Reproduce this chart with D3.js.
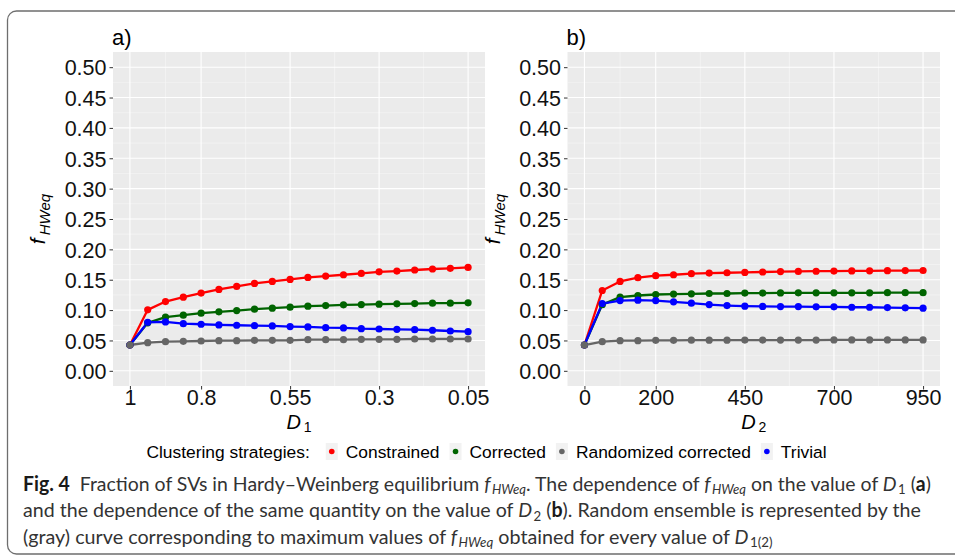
<!DOCTYPE html>
<html>
<head>
<meta charset="utf-8">
<script src="https://cdn.jsdelivr.net/npm/d3@7"></script>
<style>
  html, body { margin: 0; padding: 0; background: #fff; }
  svg { display: block; }
</style>
</head>
<body>
<svg id="chart" width="955" height="555"></svg>
<script>
// ---------------- data ----------------
const d1Values = [1, 0.95, 0.9, 0.85, 0.8, 0.75, 0.7, 0.65, 0.6, 0.55, 0.5, 0.45, 0.4, 0.35, 0.3, 0.25, 0.2, 0.15, 0.1, 0.05];
const d2Values = [0, 50, 100, 150, 200, 250, 300, 350, 400, 450, 500, 550, 600, 650, 700, 750, 800, 850, 900, 950];

const constrainedA = [0.0425, 0.1004, 0.1141, 0.1213, 0.1280, 0.1340, 0.1390, 0.1439, 0.1472, 0.1505, 0.1538, 0.1560, 0.1582, 0.1604, 0.1630, 0.1643, 0.1660, 0.1677, 0.1687, 0.1703];
const correctedA   = [0.0425, 0.0790, 0.0883, 0.0916, 0.0949, 0.0971, 0.0992, 0.1015, 0.1032, 0.1048, 0.1065, 0.1075, 0.1086, 0.1091, 0.1098, 0.1103, 0.1108, 0.1114, 0.1114, 0.1119];
const trivialA     = [0.0425, 0.0800, 0.0805, 0.0777, 0.0767, 0.0756, 0.0750, 0.0744, 0.0739, 0.0728, 0.0723, 0.0711, 0.0706, 0.0694, 0.0689, 0.0684, 0.0678, 0.0668, 0.0656, 0.0645];
const randomizedA  = [0.0425, 0.0463, 0.0480, 0.0486, 0.0491, 0.0496, 0.0496, 0.0502, 0.0502, 0.0502, 0.0513, 0.0513, 0.0513, 0.0518, 0.0518, 0.0518, 0.0524, 0.0524, 0.0524, 0.0524];

const constrainedB = [0.0425, 0.1323, 0.1472, 0.1533, 0.1566, 0.1582, 0.1599, 0.1610, 0.1615, 0.1620, 0.1627, 0.1635, 0.1637, 0.1640, 0.1643, 0.1645, 0.1647, 0.1649, 0.1650, 0.1652];
const correctedB   = [0.0425, 0.1090, 0.1213, 0.1240, 0.1257, 0.1263, 0.1268, 0.1273, 0.1273, 0.1280, 0.1280, 0.1283, 0.1284, 0.1285, 0.1285, 0.1285, 0.1285, 0.1286, 0.1286, 0.1286];
const trivialB     = [0.0425, 0.1108, 0.1157, 0.1164, 0.1157, 0.1136, 0.1114, 0.1091, 0.1075, 0.1065, 0.1060, 0.1058, 0.1058, 0.1053, 0.1053, 0.1047, 0.1047, 0.1042, 0.1037, 0.1032];
const randomizedB  = [0.0425, 0.0480, 0.0496, 0.0496, 0.0502, 0.0502, 0.0504, 0.0505, 0.0505, 0.0506, 0.0506, 0.0507, 0.0507, 0.0507, 0.0508, 0.0508, 0.0508, 0.0508, 0.0508, 0.0508];

const seriesNames  = ["Constrained", "Corrected", "Randomized corrected", "Trivial"];
const seriesColors = ["#FF0000", "#006400", "#666666", "#0000FF"];
const drawOrder    = ["Constrained", "Corrected", "Trivial", "Randomized corrected"];

const d1Ticks = [1, 0.8, 0.55, 0.3, 0.05];
const d1TickLabels = ["1", "0.8", "0.55", "0.3", "0.05"];
const d2Ticks = [0, 200, 450, 700, 950];
const d2TickLabels = ["0", "200", "450", "700", "950"];
const yTicks = [0, 0.05, 0.10, 0.15, 0.20, 0.25, 0.30, 0.35, 0.40, 0.45, 0.50];
const yTickLabels = ["0.00", "0.05", "0.10", "0.15", "0.20", "0.25", "0.30", "0.35", "0.40", "0.45", "0.50"];

const legendTitle = "Clustering strategies:";

// ---------------- drawing ----------------
const svg = d3.select("#chart");
const FONT = "'Liberation Sans', Arial, Helvetica, sans-serif";
const colorOf = d3.scaleOrdinal().domain(seriesNames).range(seriesColors);

// frame
svg.append("rect")
  .attr("x", 7.5).attr("y", 11).attr("width", 980).attr("height", 543)
  .attr("rx", 9).attr("fill", "none").attr("stroke", "#6e6e6e").attr("stroke-width", 1.3);

const plotTop = 52, plotBottom = 386;
const y = d3.scaleLinear().domain([-0.025, 0.525]).range([plotBottom, plotTop]);

function midpoints(arr) {
  const out = [];
  for (let i = 0; i < arr.length - 1; i++) out.push((arr[i] + arr[i + 1]) / 2);
  return out;
}

function panel(opts) {
  const { left, right, xDomain, xVals, xTicks, xTickLabels, data, label, axisSub } = opts;
  const x = d3.scaleLinear().domain(xDomain).range([left, right]);
  const g = svg.append("g");

  // background
  g.append("rect").attr("x", left).attr("y", plotTop)
    .attr("width", right - left).attr("height", plotBottom - plotTop).attr("fill", "#EBEBEB");

  // minor grid
  midpoints(yTicks).forEach(v => {
    g.append("line").attr("x1", left).attr("x2", right).attr("y1", y(v)).attr("y2", y(v))
      .attr("stroke", "#F6F6F6").attr("stroke-width", 0.6);
  });
  midpoints(xTicks).forEach(v => {
    g.append("line").attr("x1", x(v)).attr("x2", x(v)).attr("y1", plotTop).attr("y2", plotBottom)
      .attr("stroke", "#F6F6F6").attr("stroke-width", 0.6);
  });
  // major grid
  yTicks.forEach(v => {
    g.append("line").attr("x1", left).attr("x2", right).attr("y1", y(v)).attr("y2", y(v))
      .attr("stroke", "#FFFFFF").attr("stroke-width", 1.1);
  });
  xTicks.forEach(v => {
    g.append("line").attr("x1", x(v)).attr("x2", x(v)).attr("y1", plotTop).attr("y2", plotBottom)
      .attr("stroke", "#FFFFFF").attr("stroke-width", 1.1);
  });

  // axes
  const yAxis = d3.axisLeft(y).tickValues(yTicks).tickFormat((d, i) => yTickLabels[i])
    .tickSize(3.5).tickPadding(3);
  const ya = g.append("g").attr("transform", `translate(${left},0)`).call(yAxis);
  ya.select(".domain").remove();
  ya.selectAll(".tick line").attr("stroke", "#333").attr("stroke-width", 1);
  ya.selectAll(".tick text").attr("fill", "#111").style("font-family", FONT).style("font-size", "21.5px")
    .attr("dy", "0.36em");

  const xAxis = d3.axisBottom(x).tickValues(xTicks).tickFormat((d, i) => xTickLabels[i])
    .tickSize(3.5).tickPadding(1);
  const xa = g.append("g").attr("transform", `translate(0,${plotBottom})`).call(xAxis);
  xa.select(".domain").remove();
  xa.selectAll(".tick line").attr("stroke", "#333").attr("stroke-width", 1);
  xa.selectAll(".tick text").attr("fill", "#111").style("font-family", FONT).style("font-size", "21.5px")
    .attr("dy", "0.68em");

  // lines
  const line = d3.line().x((d, i) => x(xVals[i])).y(d => y(d));
  drawOrder.forEach(name => {
    g.append("path").datum(data[name]).attr("d", line).attr("fill", "none")
      .attr("stroke", colorOf(name)).attr("stroke-width", 2.3).attr("stroke-linejoin", "round");
  });
  drawOrder.forEach(name => {
    g.selectAll(null).data(data[name]).enter().append("circle")
      .attr("cx", (d, i) => x(xVals[i])).attr("cy", d => y(d)).attr("r", 3.6)
      .attr("fill", colorOf(name));
  });

  // panel label
  g.append("text").attr("x", left - 1).attr("y", 45).text(label)
    .style("font-family", FONT).style("font-size", "22px").attr("fill", "#000");

  // x axis title
  const xt = g.append("text").attr("x", (left + right) / 2).attr("y", 429).attr("text-anchor", "middle")
    .style("font-family", FONT).attr("fill", "#000");
  xt.append("tspan").text("D").style("font-style", "italic").style("font-size", "20px");
  xt.append("tspan").text(axisSub).attr("dx", 3).attr("dy", 3).style("font-size", "14px");

  // y axis title
  const cx = left - 68, cy = (plotTop + plotBottom) / 2;
  const yt = g.append("text").attr("transform", `translate(${cx},${cy}) rotate(-90)`).attr("text-anchor", "middle")
    .style("font-family", FONT).attr("fill", "#000");
  yt.append("tspan").text("f").style("font-style", "italic").style("font-size", "21px");
  yt.append("tspan").text("HWeq").attr("dx", 3).attr("dy", 5).style("font-style", "italic").style("font-size", "15px");
}

panel({
  left: 113, right: 485, xDomain: [1.0475, 0.0025], xVals: d1Values,
  xTicks: d1Ticks, xTickLabels: d1TickLabels, label: "a)", axisSub: "1",
  data: { "Constrained": constrainedA, "Corrected": correctedA, "Trivial": trivialA, "Randomized corrected": randomizedA }
});
panel({
  left: 567.5, right: 940, xDomain: [-47.5, 997.5], xVals: d2Values,
  xTicks: d2Ticks, xTickLabels: d2TickLabels, label: "b)", axisSub: "2",
  data: { "Constrained": constrainedB, "Corrected": correctedB, "Trivial": trivialB, "Randomized corrected": randomizedB }
});

// ---------------- legend ----------------
const lg = svg.append("g");
const legendBase = 457.5, legendDotY = 451.5;
let cursor = 0;
const tTitle = lg.append("text").attr("x", cursor).attr("y", legendBase).text(legendTitle)
  .style("font-family", FONT).style("font-size", "17.4px").attr("fill", "#000");
cursor += tTitle.node().getComputedTextLength() + 22;
seriesNames.forEach((name, i) => {
  lg.append("rect").attr("x", cursor - 6).attr("y", legendDotY - 8.5).attr("width", 12).attr("height", 17)
    .attr("fill", "#F2F2F2");
  lg.append("circle").attr("cx", cursor).attr("cy", legendDotY).attr("r", 2.8).attr("fill", colorOf(name));
  cursor += 14;
  const t = lg.append("text").attr("x", cursor).attr("y", legendBase).text(name)
    .style("font-family", FONT).style("font-size", "17.4px").attr("fill", "#000");
  cursor += t.node().getComputedTextLength();
  if (i < seriesNames.length - 1) cursor += 16;
});
const legendCenter = 486.5;
lg.attr("transform", `translate(${legendCenter - cursor / 2},0)`);

// ---------------- caption ----------------
const CAP_FONT = "Lato, 'Open Sans', sans-serif";
const captionLines = [
  { base: 490.5, width: 904, parts: [
    { t: "Fig. 4", s: "b" }, { t: "\u00a0\u00a0Fraction of SVs in Hardy\u2013Weinberg equilibrium " },
    { t: "f", s: "i" }, { t: "HWeq", s: "isub" }, { t: ". The dependence of " },
    { t: "f", s: "i" }, { t: "HWeq", s: "isub" }, { t: " on the value of " },
    { t: "D", s: "i" }, { t: "1", s: "sub" }, { t: "\u00a0(" }, { t: "a", s: "b" }, { t: ")" } ] },
  { base: 517, width: 897, parts: [
    { t: "and the dependence of the same quantity on the value of " },
    { t: "D", s: "i" }, { t: "2", s: "sub" }, { t: " (" }, { t: "b", s: "b" },
    { t: "). Random ensemble is represented by the" } ] },
  { base: 543.5, width: 747, parts: [
    { t: "(gray) curve corresponding to maximum values of " },
    { t: "f", s: "i" }, { t: "HWeq", s: "isub" }, { t: " obtained for every value of " },
    { t: "D", s: "i" }, { t: "1(2)", s: "sub" } ] }
];
captionLines.forEach(line => {
  const g = svg.append("g");
  const txt = g.append("text").attr("x", 0).attr("y", 0)
    .style("font-family", CAP_FONT).style("font-size", "20px").attr("fill", "#333");
  let shifted = false;
  line.parts.forEach(p => {
    const ts = txt.append("tspan").text(p.t);
    const isSub = p.s === "sub" || p.s === "isub";
    if (p.s === "b") ts.style("font-weight", "bold").attr("fill", "#1a1a1a");
    if (p.s === "i" || p.s === "isub") ts.style("font-style", "italic");
    if (isSub) {
      ts.style("font-size", "13.5px").attr("dx", 1.5);
      if (!shifted) { ts.attr("dy", 3.5); shifted = true; }
    }
    else if (shifted) { ts.attr("dy", -3.5); shifted = false; }
  });
  const w = txt.node().getComputedTextLength();
  g.attr("transform", `translate(23,${line.base}) scale(${line.width / w},1)`);
});
</script>
</body>
</html>
